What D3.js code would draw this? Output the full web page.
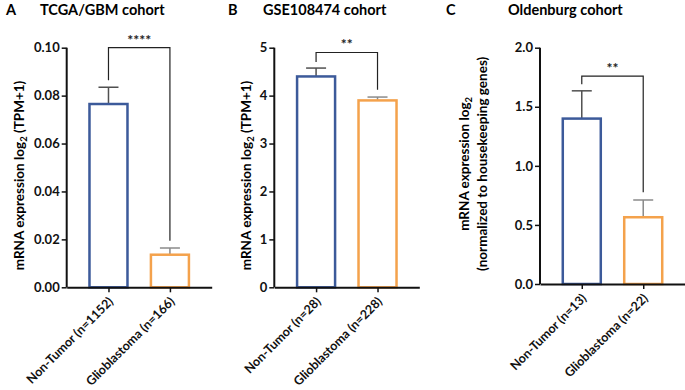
<!DOCTYPE html>
<html><head><meta charset="utf-8">
<script src="https://cdn.jsdelivr.net/npm/d3@7"></script>
<style>
body{margin:0;background:#fff;}
svg{display:block;font-family:Lato,"Open Sans",sans-serif;}
</style></head>
<body><svg id="c" width="685" height="390"></svg>
<script>
const panelLetters = ["A","B","C"];
const panelTitles = ["TCGA/GBM cohort","GSE108474 cohort","Oldenburg cohort"];
const categoriesA = ["Non-Tumor (n=1152)","Glioblastoma (n=166)"];
const categoriesB = ["Non-Tumor (n=28)","Glioblastoma (n=228)"];
const categoriesC = ["Non-Tumor (n=13)","Glioblastoma (n=22)"];
const meansA = [0.0765, 0.0136];
const errorsA = [0.0070, 0.0028];
const meansB = [4.40, 3.90];
const errorsB = [0.175, 0.07];
const meansC = [1.40, 0.565];
const errorsC = [0.235, 0.146];
const ticksA = ["0.00","0.02","0.04","0.06","0.08","0.10"];
const ticksB = ["0","1","2","3","4","5"];
const ticksC = ["0.0","0.5","1.0","1.5","2.0"];
const significance = ["****","**","**"];
const bracketTop = [0.100, 4.90, 1.76];
const bracketLeft = [0.0864, 4.70, 1.69];
const bracketRight = [0.0194, 4.125, 0.776];
const yLabelsA = ["mRNA expression log₂ (TPM+1)"];
const yLabelsB = ["mRNA expression log₂ (TPM+1)"];
const yLabelsC = ["mRNA expression log₂","(normalized to housekeeping genes)"];

const barColors = ["#3C5A9A","#F4A24C"];
const errColors = ["#505050","#8a8a8a"];

const svg = d3.select("#c");

const layouts = [
  {ax:66.7, y0:287.3, yTop:47.7, letterX:6, titleX:40, ylabX:[19]},
  {ax:274.3, y0:287.3, yTop:47.7, letterX:228, titleX:263, ylabX:[246]},
  {ax:540, y0:284, yTop:47.7, letterX:446, titleX:508, ylabX:[464,482]}
];
const cats = [categoriesA, categoriesB, categoriesC];
const means = [meansA, meansB, meansC];
const errs = [errorsA, errorsB, errorsC];
const ticks = [ticksA, ticksB, ticksC];
const ylabs = [yLabelsA, yLabelsB, yLabelsC];

function sub2(sel, str){
  const parts = str.split("₂");
  sel.text(null);
  parts.forEach((p,i)=>{
    if(i>0){
      sel.append("tspan").attr("baseline-shift","-25%").attr("font-size","9.5px").text("2");
    }
    if(p.length) sel.append("tspan").text(p);
  });
}

for(let p=0;p<3;p++){
  const L = layouts[p];
  const tk = ticks[p].map(Number);
  const yMax = d3.max(tk);
  const y = d3.scaleLinear().domain([0,yMax]).range([L.y0, L.yTop]);
  const x = d3.scalePoint().domain(cats[p]).range([L.ax, L.ax+145]).padding(0.68);
  const g = svg.append("g");

  g.append("text").attr("x",L.letterX).attr("y",15).attr("font-weight","bold").attr("font-size","14.5px").text(panelLetters[p]);
  g.append("text").attr("x",L.titleX).attr("y",15).attr("font-weight","bold").attr("font-size","14.5px").text(panelTitles[p]);

  const bw = 38;
  cats[p].forEach((c,i)=>{
    const cx = x(c);
    const top = y(means[p][i]);
    const et = y(means[p][i]+errs[p][i]);
    g.append("line").attr("x1",cx).attr("x2",cx).attr("y1",top).attr("y2",et).attr("stroke",errColors[i]).attr("stroke-width",1.5);
    g.append("line").attr("x1",cx-10).attr("x2",cx+10).attr("y1",et).attr("y2",et).attr("stroke",errColors[i]).attr("stroke-width",1.5);
    g.append("rect").attr("x",cx-bw/2).attr("y",top).attr("width",bw).attr("height",L.y0-top)
      .attr("fill","#fff").attr("stroke",barColors[i]).attr("stroke-width",2.5);
  });

  const yAxis = d3.axisLeft(y).tickValues(tk).tickFormat((d,i)=>ticks[p][i]).tickSize(5).tickSizeOuter(0);
  const ya = g.append("g").attr("transform",`translate(${L.ax},0)`).call(yAxis);
  ya.select(".domain").attr("stroke","#111").attr("stroke-width",2).attr("d",`M0,${L.y0}V${L.yTop}`);
  ya.selectAll(".tick line").attr("stroke","#111").attr("stroke-width",1.5);
  ya.selectAll(".tick text").attr("font-size","13px").attr("font-weight","bold").attr("fill","#111").attr("font-family","Lato,sans-serif").attr("x",-7);

  const xAxis = d3.axisBottom(x).tickSize(5).tickSizeOuter(0);
  const xa = g.append("g").attr("transform",`translate(0,${L.y0})`).call(xAxis);
  xa.select(".domain").attr("stroke","#111").attr("stroke-width",2);
  xa.selectAll(".tick line").attr("stroke","#111").attr("stroke-width",1.5);
  xa.selectAll(".tick text").attr("font-size","12.5px").attr("font-weight","bold").attr("fill","#111")
    .attr("font-family","Lato,sans-serif")
    .attr("text-anchor","end").attr("dy",0).attr("y",0)
    .attr("transform","translate(5,15) rotate(-45)");

  const x1 = x(cats[p][0]), x2 = x(cats[p][1]);
  const bt = y(bracketTop[p]);
  g.append("path").attr("d",`M${x1},${y(bracketLeft[p])}V${bt}H${x2}V${y(bracketRight[p])}`)
    .attr("fill","none").attr("stroke","#222").attr("stroke-width",1.2);
  g.append("text").attr("x",(x1+x2)/2).attr("y",bt-3).attr("text-anchor","middle")
    .attr("font-size","14px").attr("font-weight","bold").attr("fill","#222").text(significance[p]);

  const cy = (L.y0+L.yTop)/2 + (p===2?-2:8);
  ylabs[p].forEach((lab,i)=>{
    const t = g.append("text").attr("transform",`translate(${L.ylabX[i]+5},${cy}) rotate(-90)`)
      .attr("text-anchor","middle").attr("font-weight","bold").attr("font-size","13.5px");
    sub2(t, lab);
  });
}
</script></body></html>
